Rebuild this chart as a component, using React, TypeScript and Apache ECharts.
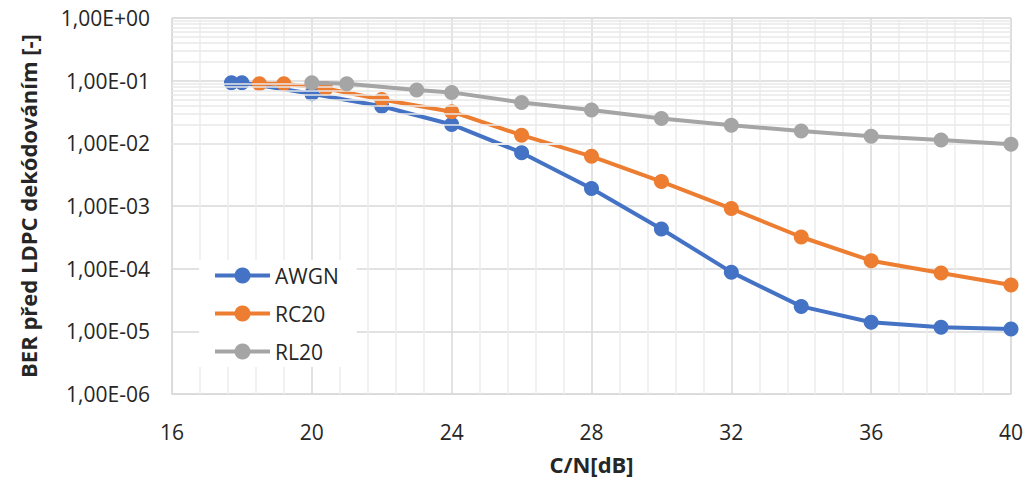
import React, { useEffect, useRef } from "react";
import * as echarts from "echarts";

const awgnX = [17.7, 18, 20, 22, 24, 26, 28, 30, 32, 34, 36, 38, 40];
const awgnY = [0.093, 0.093, 0.062, 0.039, 0.02, 0.0071, 0.0019, 0.00043, 0.000088, 0.000025, 0.000014, 0.0000116, 0.0000109];

const rc20X = [18.5, 19.2, 20.4, 22, 24, 26, 28, 30, 32, 34, 36, 38, 40];
const rc20Y = [0.089, 0.089, 0.075, 0.05, 0.032, 0.0135, 0.0062, 0.00245, 0.00091, 0.00032, 0.000134, 0.000085, 0.000055];

const rl20X = [20, 21, 23, 24, 26, 28, 30, 32, 34, 36, 38, 40];
const rl20Y = [0.093, 0.089, 0.071, 0.065, 0.045, 0.034, 0.025, 0.0195, 0.0157, 0.013, 0.0113, 0.0097];

const seriesNames = ["AWGN", "RC20", "RL20"];
const seriesColors = ["#4472C4", "#ED7D31", "#A5A5A5"];

const xMin = 16;
const xMax = 40;
const xStep = 4;
const yMin = 1e-6;
const yMax = 1;
const yTickLabels = ["1,00E-06", "1,00E-05", "1,00E-04", "1,00E-03", "1,00E-02", "1,00E-01", "1,00E+00"];
const decadeStarts = [1e-6, 1e-5, 1e-4, 1e-3, 1e-2, 1e-1];
const minorMultipliers = [2, 3, 4, 5, 6, 7, 8, 9];

const FONT = "'Open Sans', 'Noto Sans', sans-serif";
const TEXT = "#262626";

function pairs(xs: number[], ys: number[]) {
  return xs.map((x, i) => [x, ys[i]]);
}

export default function App() {
  const ref = useRef<HTMLDivElement>(null);

  useEffect(() => {
    if (!ref.current) return;
    const chart = echarts.init(ref.current, null, { renderer: "svg" });
    const dataSets = [pairs(awgnX, awgnY), pairs(rc20X, rc20Y), pairs(rl20X, rl20Y)];

    const minorLines = decadeStarts.flatMap((d) =>
      minorMultipliers.map((m) => ({ yAxis: m * d }))
    );

    chart.setOption({
      animation: false,
      textStyle: { fontFamily: FONT },
      grid: {
        left: 172,
        right: 17,
        top: 18,
        bottom: 82,
        show: true,
        borderColor: "#d9d9d9",
        borderWidth: 1,
      },
      legend: {
        data: seriesNames,
        orient: "vertical",
        left: 199,
        top: 260,
        padding: [5, 18, 5, 14],
        backgroundColor: "#ffffff",
        itemWidth: 55,
        itemHeight: 20,
        itemGap: 17,
        lineStyle: { width: 4 },
        textStyle: { fontSize: 21, color: TEXT, fontFamily: FONT },
      },
      xAxis: {
        type: "value",
        min: xMin,
        max: xMax,
        interval: xStep,
        name: "C/N[dB]",
        nameLocation: "middle",
        nameGap: 59,
        nameTextStyle: { fontSize: 22, fontWeight: "bold", color: TEXT, fontFamily: FONT },
        axisLine: { show: true, lineStyle: { color: "#d9d9d9", width: 1 } },
        axisTick: { show: false },
        axisLabel: { fontSize: 21, color: TEXT, margin: 27, fontFamily: FONT },
        splitLine: { show: true, lineStyle: { color: "#d9d9d9", width: 1.5 } },
        minorTick: { show: false, splitNumber: 5 },
        minorSplitLine: { show: true, lineStyle: { color: "#ececec", width: 1.5 } },
      },
      yAxis: {
        type: "log",
        logBase: 10,
        min: yMin,
        max: yMax,
        interval: 1,
        name: "BER před LDPC dekódováním [-]",
        nameLocation: "middle",
        nameGap: 133,
        nameTextStyle: { fontSize: 22, fontWeight: "bold", color: TEXT, fontFamily: FONT },
        axisLine: { show: true, lineStyle: { color: "#d9d9d9", width: 1 } },
        axisTick: { show: false },
        axisLabel: {
          fontSize: 21,
          color: TEXT,
          margin: 22,
          fontFamily: FONT,
          formatter: (v: number) => {
            const idx = Math.round(Math.log10(v) - Math.log10(yMin));
            return yTickLabels[idx] ?? "";
          },
        },
        splitLine: { show: true, lineStyle: { color: "#d9d9d9", width: 1.5 } },
      },
      series: [
        {
          name: "minor-grid",
          type: "line",
          data: [],
          z: 1,
          silent: true,
          markLine: {
            silent: true,
            symbol: ["none", "none"],
            label: { show: false },
            emphasis: { disabled: true },
            lineStyle: { color: "#e8e8e8", type: "solid", width: 1.5 },
            data: minorLines,
          },
        },
        ...seriesNames.map((name, i) => ({
          name,
          type: "line",
          data: dataSets[i],
          z: 3 + i,
          symbol: "circle",
          symbolSize: 15,
          showSymbol: true,
          lineStyle: { color: seriesColors[i], width: 4 },
          itemStyle: { color: seriesColors[i] },
          emphasis: { disabled: true },
        })),
      ],
    });

    return () => chart.dispose();
  }, []);

  return (
    <div
      ref={ref}
      style={{ position: "fixed", left: 0, top: 0, width: 1028, height: 480, background: "#fff" }}
    />
  );
}
